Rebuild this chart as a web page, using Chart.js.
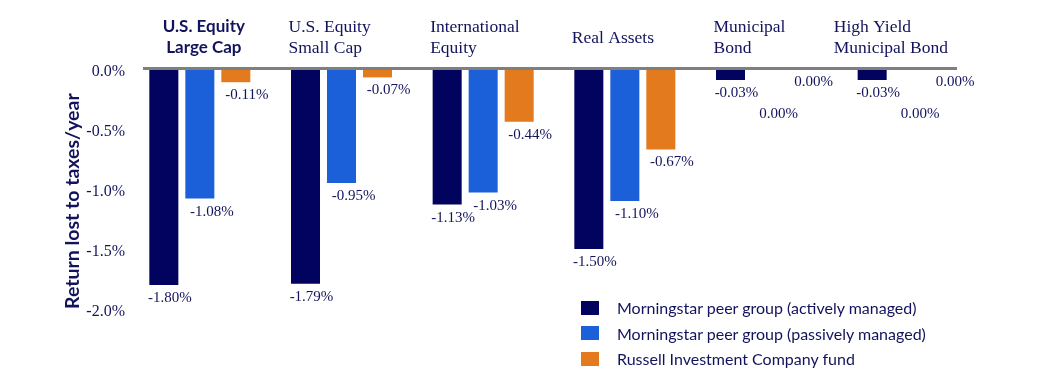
<!DOCTYPE html>
<html>
<head>
<meta charset="utf-8">
<script src="https://cdn.jsdelivr.net/npm/chart.js@4/dist/chart.umd.min.js"></script>
<style>
  html, body { margin: 0; padding: 0; background: #ffffff; }
  #wrap { position: relative; width: 1048px; height: 376px; }
  #legend { position: absolute; left: 581px; top: 295px; font-family: Lato, sans-serif; font-size: 16px; color: #12135c; }
  .row { display: flex; align-items: center; height: 25.5px; }
  .sw { width: 18px; height: 14px; margin-right: 18px; }
</style>
</head>
<body>
<div id="wrap">
  <canvas id="c" width="1048" height="376"></canvas>
  <div id="legend"></div>
</div>
<script>
const categories = [
  ['U.S. Equity', 'Large Cap'],
  ['U.S. Equity', 'Small Cap'],
  ['International', 'Equity'],
  ['Real Assets'],
  ['Municipal', 'Bond'],
  ['High Yield', 'Municipal Bond']
];
const seriesNames = [
  'Morningstar peer group (actively managed)',
  'Morningstar peer group (passively managed)',
  'Russell Investment Company fund'
];
const activeValues  = [-1.80, -1.79, -1.13, -1.50, -0.03, -0.03];
const passiveValues = [-1.08, -0.95, -1.03, -1.10, 0.00, 0.00];
const russellValues = [-0.11, -0.07, -0.44, -0.67, 0.00, 0.00];
const yTickValues = [0, -0.5, -1.0, -1.5, -2.0];
const seriesColors = ['#02035e', '#1b5fd9', '#e37b1e'];

const TEXT = '#12135c';
const LABEL_SHIFT = [6, 12, 11];

// HTML legend built from the series arrays
const legendEl = document.getElementById('legend');
seriesNames.forEach((name, i) => {
  const row = document.createElement('div');
  row.className = 'row';
  const sw = document.createElement('span');
  sw.className = 'sw';
  sw.style.background = seriesColors[i];
  const tx = document.createElement('span');
  tx.textContent = name;
  row.appendChild(sw); row.appendChild(tx);
  legendEl.appendChild(row);
});

const zeroLine = {
  id: 'zeroLine',
  afterDatasetsDraw(chart) {
    const { ctx, chartArea, scales } = chart;
    const y = scales.y.getPixelForValue(0);
    ctx.save();
    ctx.strokeStyle = '#7f7f7f';
    ctx.lineWidth = 3;
    ctx.beginPath();
    ctx.moveTo(chartArea.left + 14, y - 0.5);
    ctx.lineTo(chartArea.right - 22, y - 0.5);
    ctx.stroke();
    ctx.restore();
  }
};

const valueLabels = {
  id: 'valueLabels',
  afterDatasetsDraw(chart) {
    const { ctx } = chart;
    ctx.save();
    ctx.font = '15px "Liberation Serif", serif';
    ctx.fillStyle = TEXT;
    ctx.textAlign = 'center';
    ctx.textBaseline = 'middle';
    chart.data.datasets.forEach((ds, di) => {
      const meta = chart.getDatasetMeta(di);
      meta.data.forEach((el, i) => {
        const v = ds.data[i];
        let extra = 0;
        if (v === 0 && di === 1) extra = 32;
        ctx.fillText(v.toFixed(2) + '%', el.x + LABEL_SHIFT[di], el.y + 13 + extra);
      });
    });
    ctx.restore();
  }
};

const categoryLabels = {
  id: 'categoryLabels',
  afterDraw(chart) {
    const { ctx, scales, chartArea } = chart;
    const xs = scales.x;
    ctx.save();
    ctx.fillStyle = TEXT;
    ctx.textBaseline = 'middle';
    categories.forEach((lines, i) => {
      const cx = xs.getPixelForValue(i);
      const ys = lines.length === 1 ? [38] : [27, 48];
      if (i === 0) {
        ctx.font = 'bold 17px Lato, sans-serif';
        ctx.textAlign = 'center';
        lines.forEach((t, k) => ctx.fillText(t, cx + 4, ys[k]));
      } else {
        ctx.font = '17.5px "Liberation Serif", serif';
        ctx.textAlign = 'left';
        const w = Math.max(...lines.map(t => ctx.measureText(t).width));
        const left = Math.min(cx - 53, chartArea.right - 31 - w);
        lines.forEach((t, k) => ctx.fillText(t, left, ys[k]));
      }
    });
    ctx.restore();
  }
};

new Chart(document.getElementById('c'), {
  type: 'bar',
  data: {
    labels: categories,
    datasets: [
      { label: seriesNames[0], data: activeValues, backgroundColor: seriesColors[0], minBarLength: 11 },
      { label: seriesNames[1], data: passiveValues, backgroundColor: seriesColors[1] },
      { label: seriesNames[2], data: russellValues, backgroundColor: seriesColors[2] }
    ]
  },
  options: {
    responsive: false,
    animation: false,
    categoryPercentage: 0.7624,
    barPercentage: 0.806,
    layout: { padding: { left: 61, right: 69, top: 69, bottom: 67 } },
    plugins: { legend: { display: false }, tooltip: { enabled: false } },
    scales: {
      x: {
        position: 'top',
        grid: { display: false, drawTicks: false },
        border: { display: false },
        ticks: { display: false }
      },
      y: {
        min: -2,
        max: 0,
        afterBuildTicks: (scale) => { scale.ticks = yTickValues.map(v => ({ value: v })); },
        afterFit: (scale) => { scale.width = 68; },
        grid: { display: false, drawTicks: false },
        border: { display: false },
        ticks: {
          padding: 4,
          labelOffset: 3,
          color: TEXT,
          font: { family: '"Liberation Serif", serif', size: 16 },
          callback: (v) => Number(v).toFixed(1) + '%'
        },
        title: {
          display: true,
          text: 'Return lost to taxes/year',
          color: TEXT,
          align: 'start',
          padding: 0,
          font: { family: 'Lato, sans-serif', size: 19.5, weight: 'bold' }
        }
      }
    }
  },
  plugins: [zeroLine, valueLabels, categoryLabels]
});
</script>
</body>
</html>
